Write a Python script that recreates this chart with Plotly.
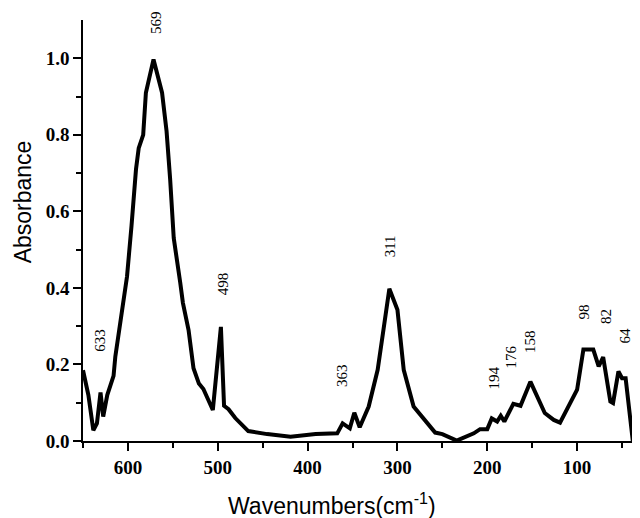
import plotly.graph_objects as go

# Spectrum (wavenumber cm^-1, absorbance)
wavenumber = [650, 644, 638.5, 634.5, 630.5, 627.5, 623, 616, 614, 607, 601, 596, 591, 588,
              583, 580, 571.5, 562, 557, 553, 549, 541.8, 538.8, 532.5, 527, 521, 516, 505.5,
              496.5, 493, 488, 480.5, 466, 445, 419, 391, 367, 361, 353, 348, 342, 332, 322,
              315, 309, 300, 293, 282, 258, 250, 234, 215, 208, 200, 195, 189, 185, 181, 171,
              163, 152, 136, 126, 119, 100, 93, 87, 82, 76, 71, 63, 60, 54, 50, 46, 38]
absorbance = [0.185, 0.12, 0.028, 0.046, 0.127, 0.064, 0.12, 0.17, 0.221, 0.326, 0.43, 0.562,
              0.71, 0.765, 0.80, 0.91, 0.997, 0.91, 0.81, 0.684, 0.53, 0.414, 0.361, 0.29, 0.19,
              0.15, 0.136, 0.081, 0.298, 0.092, 0.083, 0.06, 0.026, 0.018, 0.011, 0.018, 0.020,
              0.046, 0.033, 0.074, 0.036, 0.09, 0.186, 0.30, 0.398, 0.343, 0.186, 0.090, 0.022,
              0.018, 0.001, 0.020, 0.031, 0.031, 0.059, 0.051, 0.066, 0.051, 0.097, 0.092, 0.155,
              0.073, 0.055, 0.048, 0.134, 0.239, 0.240, 0.239, 0.195, 0.219, 0.103, 0.099, 0.182,
              0.164, 0.164, 0.0]

# Peak labels and their anchor positions (data coords)
peak_labels = ["633", "569", "498", "363", "311", "194", "176", "158", "98", "82", "64"]
peak_label_x = [631, 569.5, 494, 361.5, 308.5, 193, 174, 152, 92.5, 68.5, 47]
peak_label_y = [0.262, 1.093, 0.41, 0.17, 0.508, 0.165, 0.22, 0.26, 0.338, 0.325, 0.275]

x_ticks = [600, 500, 400, 300, 200, 100]
y_ticks = [0.0, 0.2, 0.4, 0.6, 0.8, 1.0]

fig = go.Figure()
fig.add_trace(go.Scatter(x=wavenumber, y=absorbance, mode="lines",
                         line=dict(color="black", width=4), showlegend=False))

for t, xv, yv in zip(peak_labels, peak_label_x, peak_label_y):
    fig.add_annotation(x=xv, y=yv, text=t, showarrow=False, textangle=-90,
                       font=dict(family="Liberation Serif", size=15, color="black"))

fig.add_annotation(xref="paper", yref="paper", x=0.447, y=-0.19, showarrow=False,
                   text="Wavenumbers(cm<sup>-1</sup>)",
                   font=dict(family="Liberation Sans", size=23, color="black"))
fig.add_annotation(xref="paper", yref="paper", x=-0.133, y=0.569, showarrow=False,
                   text="Absorbance", textangle=-90,
                   font=dict(family="Liberation Sans", size=23, color="black"))

tickfont = dict(family="Liberation Serif", size=19, color="black", weight="bold")
fig.update_xaxes(range=[650, 30], tickvals=x_ticks, ticks="outside", ticklen=8, tickwidth=1.5,
                 showline=True, linewidth=1.5, linecolor="black", showgrid=False, zeroline=False,
                 tickfont=tickfont, tickcolor="black", automargin=False,
                 minor=dict(ticks="outside", ticklen=5, tickwidth=1.5, tickcolor="black",
                            tickvals=[650, 550, 450, 350, 250, 150, 50]))
fig.update_yaxes(range=[0, 1.1], tickvals=y_ticks, tickformat=".1f", ticks="outside", ticklen=8,
                 tickwidth=1.5, showline=True, linewidth=1.5, linecolor="black", showgrid=False,
                 zeroline=False, tickfont=tickfont, tickcolor="black", automargin=False,
                 minor=dict(ticks="outside", ticklen=5, tickwidth=1.5, tickcolor="black",
                            tickvals=[0.1, 0.3, 0.5, 0.7, 0.9]))
# the page body adds an 8 px offset, so the figure is sized/margined to compensate
fig.update_layout(template="none", width=632, height=510,
                  margin=dict(l=75, r=0, t=12, b=77, autoexpand=False),
                  plot_bgcolor="white", paper_bgcolor="white")
fig.write_html("out.html")
